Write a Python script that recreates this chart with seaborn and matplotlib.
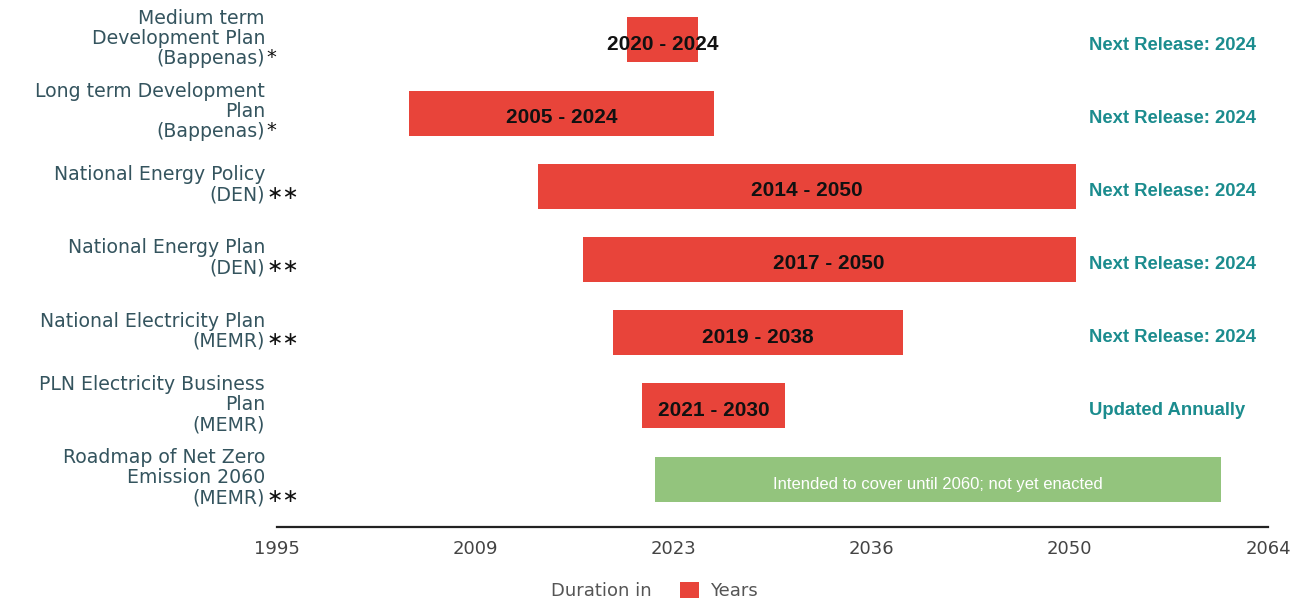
import numpy as np
import pandas as pd
import matplotlib
matplotlib.use("Agg")
import matplotlib.pyplot as plt
import matplotlib.transforms as mtransforms
from matplotlib.patches import Patch
import seaborn as sns

# ---------------- data ----------------
plans = [
    "Medium term\nDevelopment Plan\n(Bappenas)",
    "Long term Development\nPlan\n(Bappenas)",
    "National Energy Policy\n(DEN)",
    "National Energy Plan\n(DEN)",
    "National Electricity Plan\n(MEMR)",
    "PLN Electricity Business\nPlan\n(MEMR)",
    "Roadmap of Net Zero\nEmission 2060\n(MEMR)",
]
marks = ["*", "*", "\u2217\u2217", "\u2217\u2217", "\u2217\u2217", "", "\u2217\u2217"]
bar_start = [2019.4, 2004.2, 2013.2, 2016.3, 2018.4, 2020.4, 2021.3]
bar_end = [2024.3, 2025.4, 2050.6, 2050.6, 2038.6, 2030.4, 2060.7]
bar_text = ["2020 - 2024", "2005 - 2024", "2014 - 2050", "2017 - 2050",
            "2019 - 2038", "2021 - 2030",
            "Intended to cover until 2060; not yet enacted"]
status = ["Next Release: 2024", "Next Release: 2024", "Next Release: 2024",
          "Next Release: 2024", "Next Release: 2024", "Updated Annually", ""]
kind = ["enacted"] * 6 + ["planned"]
tick_values = np.linspace(1995, 2064, 6)
tick_labels = ["1995", "2009", "2023", "2036", "2050", "2064"]

RED = "#e8443a"
GREEN = "#93c47d"
TEAL = "#1b8c8e"
LABEL = "#34545e"
GRAY = "#444444"

sns.set_theme(style="white")
plt.rcParams["font.family"] = ["DejaVu Sans"]

W, H = 1309, 602
fig = plt.figure(figsize=(W / 100, H / 100), dpi=100)
ax = fig.add_axes([277 / W, 1 - 527 / H, (1268 - 277) / W, (527 - 4) / H])

df = pd.DataFrame({
    "plan": plans,
    "dur": np.array(bar_end) - np.array(bar_start),
    "kind": kind,
})
pal = {p: (GREEN if k == "planned" else RED) for p, k in zip(plans, kind)}
sns.barplot(data=df, y="plan", x="dur", hue="plan", palette=pal, orient="h",
            width=0.615, legend=False, saturation=1, ax=ax, order=plans,
            hue_order=plans)
for patch, s in zip(ax.patches, bar_start):
    patch.set_x(s)
    patch.set_linewidth(0)

ax.set_xlim(1995, 2064)
ax.set_ylim(6.656, -0.492)
ax.set_xticks(tick_values)
ax.set_xticklabels(tick_labels, fontsize=13, color=GRAY)
ax.set_yticks([])
ax.set_xlabel("")
ax.set_ylabel("")
ax.tick_params(axis="x", length=0, pad=9)
for side in ["top", "left", "right"]:
    ax.spines[side].set_visible(False)
ax.spines["bottom"].set_color("#222222")
ax.spines["bottom"].set_linewidth(1.6)

narrow = ["Liberation Sans Narrow", "Liberation Sans", "DejaVu Sans"]
bold_sans = ["Liberation Sans", "DejaVu Sans"]

# bar labels
for i, (s, e, t, k) in enumerate(zip(bar_start, bar_end, bar_text, kind)):
    if k == "planned":
        ax.text((s + e) / 2, i + 0.07, t, ha="center", va="center",
                fontsize=12, color="white", family=narrow)
    else:
        ax.text((s + e) / 2, i + 0.06, t, ha="center", va="center",
                fontsize=15, fontweight="bold", color="#111111", family=bold_sans)

# left labels
trans_left = mtransforms.blended_transform_factory(fig.transFigure, ax.transData)
for i, (p, m) in enumerate(zip(plans, marks)):
    txt = ax.text(265 / W, i - 0.02, p, transform=trans_left, ha="right",
                  va="center", multialignment="right", fontsize=13.6,
                  color=LABEL, linespacing=1.08)
    if m:
        ax.annotate(m, xy=(1, 0), xycoords=txt, xytext=(1, 1),
                    textcoords="offset points", ha="left", va="bottom",
                    fontsize=14, color="#111111")

# right status
for i, st in enumerate(status):
    if st:
        ax.text(1089 / W, i + 0.07, st, transform=trans_left, ha="left",
                va="center", fontsize=13.3, fontweight="bold", color=TEAL,
                family=narrow)

# legend
fig.text(652 / W, 1 - 591 / H, "Duration in", ha="right", va="center",
         fontsize=13, color="#555555")
fig.legend(handles=[Patch(facecolor=RED, edgecolor="none")], labels=["Years"],
           loc="center left", bbox_to_anchor=(680 / W, 1 - 591 / H),
           frameon=False, fontsize=13, labelcolor="#555555",
           handlelength=1.05, handleheight=1.05, handletextpad=0.6,
           borderpad=0, borderaxespad=0)

fig.savefig("out.png", dpi=100, facecolor="white")
